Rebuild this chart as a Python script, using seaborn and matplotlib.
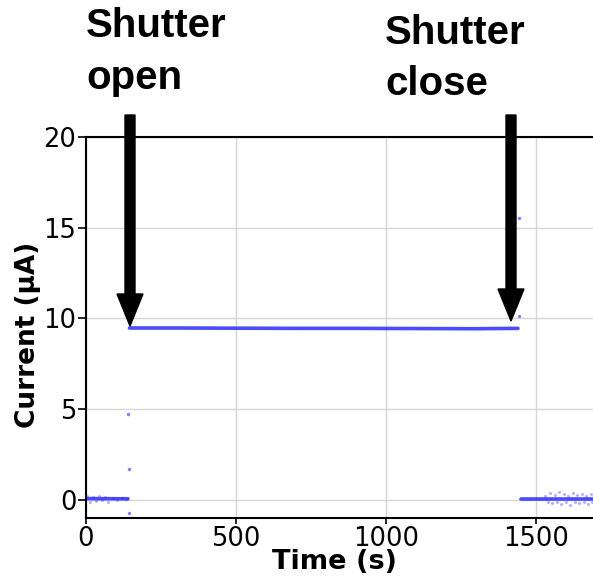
import matplotlib
matplotlib.use("Agg")
import matplotlib.pyplot as plt
from matplotlib.patches import FancyArrow
import pandas as pd
import seaborn as sns

# baseline before the shutter opens
t_dark1 = [0, 140]
i_dark1 = [0.06, 0.05]
# fuzz points on the first baseline
t_fuzz1 = [5, 15, 25, 35, 45, 55, 65, 75, 90, 105, 120, 135]
i_fuzz1 = [0.2, -0.1, 0.15, -0.05, 0.2, 0.0, 0.15, -0.1, 0.1, 0.0, 0.08, 0.02]

# illuminated plateau
t_light = [145, 300, 500, 700, 900, 1100, 1300, 1440]
i_light = [9.47, 9.47, 9.46, 9.45, 9.45, 9.44, 9.43, 9.45]

# transient points at the shutter edges
t_edge = [141, 142, 143, 1443, 1444]
i_edge = [4.75, 1.7, -0.75, 15.55, 10.15]

# baseline after the shutter closes
t_dark2 = [1450, 1690]
i_dark2 = [0.05, 0.05]
t_fuzz2 = [1530, 1540, 1548, 1555, 1562, 1570, 1578, 1585, 1592, 1600, 1608, 1615,
           1622, 1630, 1638, 1645, 1652, 1660, 1668, 1675, 1682, 1688]
i_fuzz2 = [0.2, -0.15, 0.35, -0.2, 0.25, -0.1, 0.4, -0.25, 0.3, -0.15, 0.2, -0.3,
           0.35, -0.1, 0.25, -0.2, 0.3, -0.15, 0.2, -0.25, 0.3, -0.1]

x_ticks = [0, 500, 1000, 1500]
y_ticks = [0, 5, 10, 15, 20]

sns.set_theme(style="whitegrid")
plt.rcParams["font.family"] = ["DejaVu Sans"]

fig = plt.figure(figsize=(5.93, 5.76), dpi=100)
ax = fig.add_axes([0.145, 0.101, 0.86, 0.661])

blue = "#2b2bff"
for t, i in [(t_dark1, i_dark1), (t_light, i_light), (t_dark2, i_dark2)]:
    d = pd.DataFrame({"t": t, "i": i})
    sns.lineplot(data=d, x="t", y="i", ax=ax, color=blue, linewidth=2.6, alpha=0.85)
sns.scatterplot(x=t_edge, y=i_edge, ax=ax, color=blue, s=6, alpha=0.6, linewidth=0)
sns.scatterplot(x=t_fuzz1 + t_fuzz2, y=i_fuzz1 + i_fuzz2, ax=ax, color=blue, s=5,
                alpha=0.35, linewidth=0)

ax.set_xlim(0, 1700)
ax.set_ylim(-1, 20)
ax.set_xticks(x_ticks)
ax.set_yticks(y_ticks)
ax.tick_params(axis="both", labelsize=18.5, colors="black", width=1.2,
               direction="out", bottom=True, left=True)
ax.tick_params(axis="x", length=4, pad=2)
ax.tick_params(axis="y", length=6, pad=1)
ax.grid(True, color="#d6d6d6", linewidth=1)
for side in ["left", "bottom", "top"]:
    ax.spines[side].set_color("black")
    ax.spines[side].set_linewidth(1.5)
ax.spines["right"].set_visible(False)
ax.set_xlabel("Time (s)", fontsize=19.5, fontweight="bold", color="black")
ax.set_ylabel("Current (\u00b5A)", fontsize=19, fontweight="bold", color="black")
ax.xaxis.set_label_coords(0.487, -0.083)
ax.yaxis.set_label_coords(-0.088, 0.481)

# annotations in pixel positions (converted to inches)
def px(x, y):
    return x / 100, (576 - y) / 100

tr = fig.dpi_scale_trans
words = [(86, 37, "Shutter"), (86, 89, "open"), (385, 44, "Shutter"), (385, 95, "close")]
for x, y, w in words:
    fig.text(*px(x, y), w, fontsize=29, fontweight="bold", transform=tr, color="black",
             family=["Liberation Sans", "DejaVu Sans"], va="baseline", ha="left")

for xa, y0, y1 in [(130, 115, 326), (511, 115, 321)]:
    x0, yy0 = px(xa, y0)
    _, yy1 = px(xa, y1)
    fig.patches.append(FancyArrow(x0, yy0, 0, yy1 - yy0, width=0.10, head_width=0.26,
                                  head_length=0.32, length_includes_head=True,
                                  color="black", transform=tr))

fig.savefig("out.png", dpi=100)
